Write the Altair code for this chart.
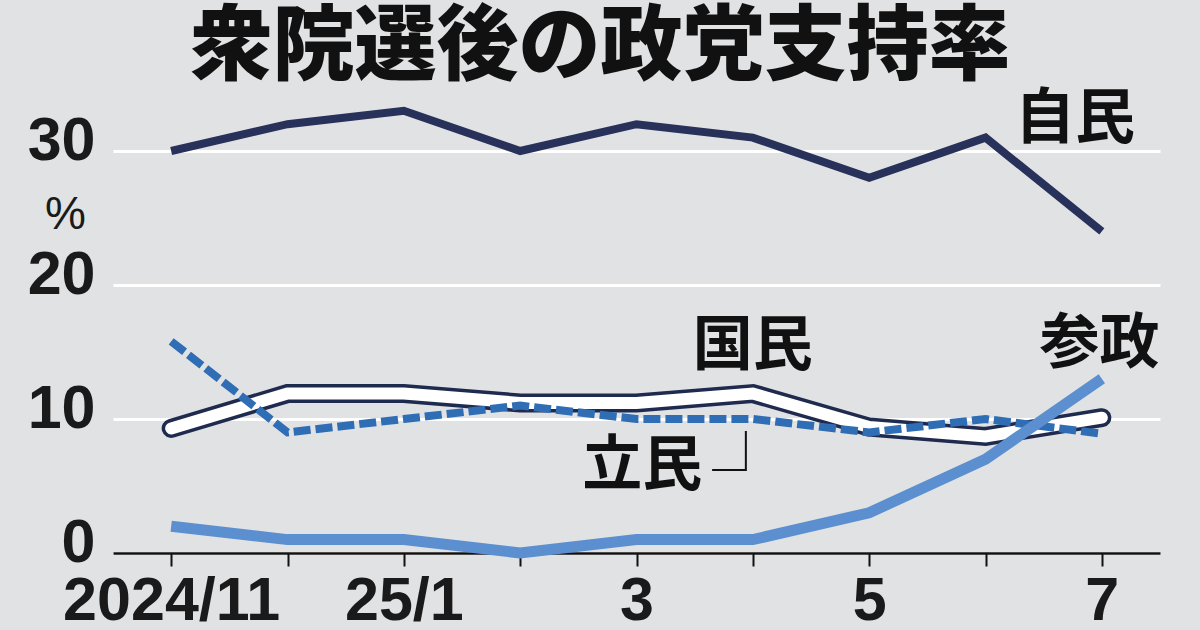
import altair as alt
import pandas as pd

# Monthly party support after the lower-house election (%)
month_idx = [0, 1, 2, 3, 4, 5, 6, 7, 8]
tick_labels = ["2024/11", "", "25/1", "", "3", "", "5", "", "7"]

ldp = [30, 32, 33, 30, 32, 31, 28, 31, 24]          # 自民
dpfp = [9.3, 11.9, 11.9, 11.2, 11.2, 11.9, 9.4, 8.7, 10.1]  # 国民
cdp = [15.8, 9, 10, 11, 10, 10, 9, 10, 8.9]          # 立民
sanseito = [2, 1, 1, 0, 1, 1, 3, 7, 13]              # 参政

# Party name labels placed in data coordinates
label_names = ["自民", "国民", "参政", "立民"]
label_x = [7.77, 5.0, 7.98, 4.05]
label_y = [32.3, 15.4, 15.5, 6.4]

# Leader bracket from the 立民 label up to its line
bracket_x = [4.65, 4.94, 4.94]
bracket_y = [6.2, 6.2, 9.1]

BG = "#e1e2e4"
NUM_FONT = "Liberation Sans Narrow, Liberation Sans, Arial, sans-serif"
JP_FONT = "Noto Sans CJK JP"

def series(values):
    return pd.DataFrame({"m": month_idx, "v": values})

x_enc = alt.X(
    "m:Q",
    scale=alt.Scale(domain=[-0.5, 8.5], nice=False, zero=False),
    axis=alt.Axis(
        values=month_idx,
        labelExpr="[" + ",".join(f"'{t}'" for t in tick_labels) + "][datum.value]",
        title=None,
        grid=False,
        domainColor="#111111",
        domainWidth=2.5,
        tickColor="#111111",
        tickWidth=2,
        tickSize=13,
        labelFont=NUM_FONT,
        labelFontSize=61,
        labelFontWeight="bold",
        labelColor="#1a1a1a",
        labelPadding=5,
        labelBaseline="top",
        labelLimit=500,
        labelOverlap=False,
    ),
)
y_enc = alt.Y(
    "v:Q",
    scale=alt.Scale(domain=[0, 35], nice=False),
    axis=alt.Axis(
        values=[0, 10, 20, 30],
        title="%",
        titleAngle=0,
        titleX=-48,
        titleY=130,
        titleAlign="center",
        titleBaseline="middle",
        titleFont=NUM_FONT,
        titleFontSize=46,
        titleFontWeight="normal",
        titleColor="#1a1a1a",
        grid=True,
        gridColor="white",
        gridWidth=3,
        domain=False,
        ticks=False,
        labelFont=NUM_FONT,
        labelFontSize=61,
        labelFontWeight="bold",
        labelColor="#1a1a1a",
        labelPadding=18,
        labelOffset=-10,
    ),
)

base_y = alt.Y("v:Q")

ldp_line = alt.Chart(series(ldp)).mark_line(
    color="#27315a", strokeWidth=8
).encode(x=x_enc, y=y_enc)

dpfp_outer = alt.Chart(series(dpfp)).mark_line(
    color="#1f2a4f", strokeWidth=19, strokeCap="round"
).encode(x="m:Q", y=base_y)
dpfp_inner = alt.Chart(series(dpfp)).mark_line(
    color="white", strokeWidth=12, strokeCap="round"
).encode(x="m:Q", y=base_y)

cdp_line = alt.Chart(series(cdp)).mark_line(
    color="#2f6db5", strokeWidth=8, strokeDash=[17, 5]
).encode(x="m:Q", y=base_y)

sanseito_line = alt.Chart(series(sanseito)).mark_line(
    color="#5b8fd0", strokeWidth=11
).encode(x="m:Q", y=base_y)

labels = alt.Chart(
    pd.DataFrame({"name": label_names, "m": label_x, "v": label_y})
).mark_text(
    font=JP_FONT, fontSize=60, fontWeight="bold", color="#111111",
    align="center", baseline="middle"
).encode(x="m:Q", y=base_y, text="name:N")

bracket = alt.Chart(
    pd.DataFrame({"m": bracket_x, "v": bracket_y, "o": [0, 1, 2]})
).mark_line(color="#111111", strokeWidth=2).encode(
    x="m:Q", y=base_y, order="o:Q"
)

chart = alt.layer(
    ldp_line, dpfp_outer, dpfp_inner, cdp_line, sanseito_line, labels, bracket
).properties(
    width=1047,
    height=469,
    background=BG,
    padding={"left": 113, "top": 84, "right": 40, "bottom": 77},
    autosize=alt.AutoSizeParams(type="none"),
    title=alt.TitleParams(
        text="衆院選後の政党支持率",
        font=JP_FONT,
        fontSize=82,
        fontWeight=900,
        color="#111111",
        anchor="middle",
        dx=-36,
        offset=-6,
    ),
).configure_view(stroke=None, fill=BG)

chart.save("out.html", embed_options={"renderer": "svg", "actions": False})
